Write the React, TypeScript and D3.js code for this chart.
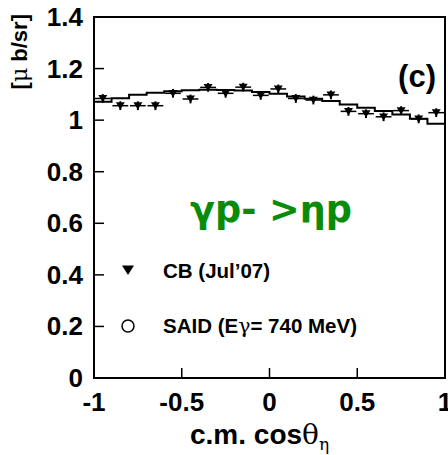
import { useRef, useEffect } from 'react';
import * as d3 from 'd3';

// bin centers in c.m. cos(theta_eta)
const cosBins = [-0.95, -0.85, -0.75, -0.65, -0.55, -0.45, -0.35, -0.25, -0.15, -0.05,
  0.05, 0.15, 0.25, 0.35, 0.45, 0.55, 0.65, 0.75, 0.85, 0.95];

// CB (Jul'07) data points [ub/sr]
const cbValues = [1.084, 1.056, 1.056, 1.056, 1.104, 1.082, 1.127, 1.104, 1.128, 1.096,
  1.121, 1.084, 1.078, 1.098, 1.034, 1.025, 1.013, 1.037, 1.005, 1.029];
const cbErrors = [0.017, 0.017, 0.017, 0.017, 0.017, 0.017, 0.017, 0.017, 0.017, 0.017,
  0.017, 0.017, 0.017, 0.017, 0.017, 0.017, 0.017, 0.017, 0.017, 0.017];

// SAID prediction, one value per bin (drawn as histogram)
const saidValues = [1.071, 1.085, 1.098, 1.106, 1.112, 1.116, 1.118, 1.117, 1.115, 1.109,
  1.102, 1.092, 1.083, 1.074, 1.061, 1.048, 1.035, 1.022, 1.005, 0.986];

const xTicks = [-1, -0.5, 0, 0.5, 1];
const xTickLabels = ['-1', '-0.5', '0', '0.5', '1'];
const yTicks = [0, 0.2, 0.4, 0.6, 0.8, 1, 1.2, 1.4];
const yTickLabels = ['0', '0.2', '0.4', '0.6', '0.8', '1', '1.2', '1.4'];

const binHalf = 0.05;
const FONT = '"Liberation Sans", Arial, sans-serif';

const Chart = () => {
  const svgRef = useRef<SVGSVGElement>(null);

  useEffect(() => {
    const svg = d3.select(svgRef.current);
    svg.selectAll('*').remove();

    const margin = { top: 17, right: 3, bottom: 77, left: 94 };
    const width = 448;
    const height = 455;

    const x = d3.scaleLinear().domain([-1, 1]).range([margin.left, width - margin.right]);
    const y = d3.scaleLinear().domain([0, 1.4]).range([height - margin.bottom, margin.top]);

    // frame
    svg.append('rect')
      .attr('x', x(-1)).attr('y', y(1.4))
      .attr('width', x(1) - x(-1)).attr('height', y(0) - y(1.4))
      .attr('fill', 'none').attr('stroke', '#000').attr('stroke-width', 2);

    // ticks
    svg.append('g').selectAll('line')
      .data(xTicks.slice(1, -1))
      .join('line')
      .attr('x1', d => x(d)).attr('x2', d => x(d))
      .attr('y1', y(0)).attr('y2', y(0) - 10)
      .attr('stroke', '#000').attr('stroke-width', 1.5);

    svg.append('g').selectAll('line')
      .data(yTicks.slice(1, -1))
      .join('line')
      .attr('x1', x(-1)).attr('x2', x(-1) + 10)
      .attr('y1', d => y(d)).attr('y2', d => y(d))
      .attr('stroke', '#000').attr('stroke-width', 1.5);

    // tick labels
    svg.append('g').selectAll('text')
      .data(xTicks)
      .join('text')
      .attr('x', d => x(d)).attr('y', y(0) + 33)
      .attr('text-anchor', 'middle')
      .attr('font-family', FONT).attr('font-weight', 'bold').attr('font-size', 26)
      .text((d, i) => xTickLabels[i]);

    svg.append('g').selectAll('text')
      .data(yTicks)
      .join('text')
      .attr('x', x(-1) - 11).attr('y', d => y(d) + 9)
      .attr('text-anchor', 'end')
      .attr('font-family', FONT).attr('font-weight', 'bold').attr('font-size', 26)
      .text((d, i) => yTickLabels[i]);

    // SAID histogram
    const steps: [number, number][] = [];
    cosBins.forEach((c, i) => {
      steps.push([c - binHalf, saidValues[i]]);
      steps.push([c + binHalf, saidValues[i]]);
    });
    svg.append('path')
      .datum(steps)
      .attr('fill', 'none').attr('stroke', '#000').attr('stroke-width', 2)
      .attr('d', d3.line<[number, number]>().x(d => x(d[0])).y(d => y(d[1])));

    // CB data points with error bars
    const pts = svg.append('g');
    const points = cosBins.map((c, i) => ({ c, v: cbValues[i], e: cbErrors[i] }));
    pts.selectAll('line.h')
      .data(points)
      .join('line')
      .attr('class', 'h')
      .attr('x1', d => x(d.c - 0.045)).attr('x2', d => x(d.c + 0.045))
      .attr('y1', d => y(d.v)).attr('y2', d => y(d.v))
      .attr('stroke', '#000').attr('stroke-width', 1.5);
    pts.selectAll('line.v')
      .data(points)
      .join('line')
      .attr('class', 'v')
      .attr('x1', d => x(d.c)).attr('x2', d => x(d.c))
      .attr('y1', d => y(d.v - d.e)).attr('y2', d => y(d.v + d.e))
      .attr('stroke', '#000').attr('stroke-width', 2);
    const tri = (cx: number, cy: number, s: number) =>
      `M${cx - s},${cy - s * 0.75}L${cx + s},${cy - s * 0.75}L${cx},${cy + s * 0.85}Z`;
    pts.selectAll('path')
      .data(points)
      .join('path')
      .attr('d', d => tri(x(d.c), y(d.v), 4.5))
      .attr('fill', '#000');

    // panel label
    svg.append('text')
      .attr('x', 436).attr('y', 87)
      .attr('text-anchor', 'end')
      .attr('font-family', FONT).attr('font-weight', 'bold').attr('font-size', 31)
      .text('(c)');

    // reaction
    svg.append('text')
      .attr('x', 190).attr('y', 222)
      .attr('font-family', '"DejaVu Sans", sans-serif').attr('font-weight', 'bold').attr('font-size', 38)
      .attr('fill', '#0a8c0a')
      .attr('textLength', 162).attr('lengthAdjust', 'spacingAndGlyphs')
      .text('γp- >ηp');

    // legend
    svg.append('path').attr('d', tri(128, 270, 6)).attr('fill', '#000');
    svg.append('text')
      .attr('x', 163).attr('y', 278)
      .attr('font-family', FONT).attr('font-weight', 'bold').attr('font-size', 20.5)
      .text('CB (Jul’07)');
    svg.append('circle')
      .attr('cx', 128).attr('cy', 326).attr('r', 6)
      .attr('fill', 'none').attr('stroke', '#000').attr('stroke-width', 1.5);
    const said = svg.append('text')
      .attr('x', 163).attr('y', 333)
      .attr('font-family', FONT).attr('font-weight', 'bold').attr('font-size', 20.5);
    said.append('tspan').text('SAID (E');
    said.append('tspan').attr('font-weight', 'normal').attr('font-family', '"DejaVu Serif", serif').text('γ');
    said.append('tspan').text('= 740 MeV)');

    // axis titles
    const xt = svg.append('text')
      .attr('x', 190).attr('y', 444)
      .attr('font-family', FONT).attr('font-weight', 'bold').attr('font-size', 28);
    xt.append('tspan').text('c.m. cos');
    xt.append('tspan').attr('font-weight', 'normal').attr('font-family', '"DejaVu Serif", serif').text('θ');
    xt.append('tspan').attr('font-weight', 'normal').attr('font-family', '"DejaVu Serif", serif')
      .attr('font-size', 17).attr('dy', 6).text('η');

    const yt = svg.append('text')
      .attr('transform', 'translate(27,14) rotate(-90)')
      .attr('text-anchor', 'end')
      .attr('font-family', FONT).attr('font-weight', 'bold').attr('font-size', 22);
    yt.append('tspan').text('[');
    yt.append('tspan').attr('font-weight', 'normal').attr('font-family', '"DejaVu Serif", serif').text('μ');
    yt.append('tspan').text(' b/sr]');
  }, []);

  return (
    <svg ref={svgRef} width={448} height={455}
      style={{ position: 'absolute', left: 0, top: 0, background: '#fff' }} />
  );
};

export default function App() {
  return <Chart />;
}
